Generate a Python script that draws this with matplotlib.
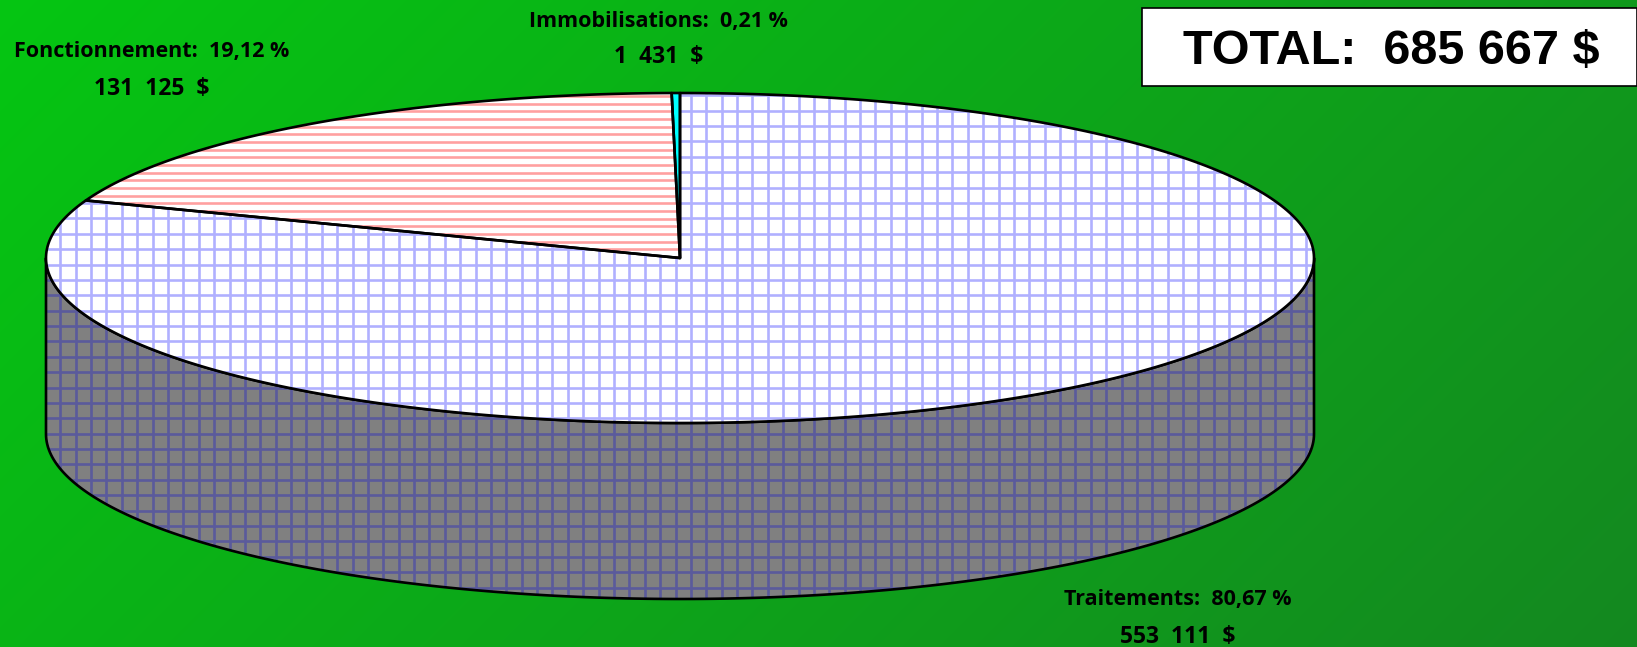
import numpy as np
import matplotlib
matplotlib.use("Agg")
import matplotlib.pyplot as plt
from matplotlib.patches import Polygon, Rectangle

categories = ["Traitements", "Fonctionnement", "Immobilisations"]
percent = [80.67, 19.12, 0.21]
percent_labels = ["80,67 %", "19,12 %", "0,21 %"]
amount_labels = ["553 111 $", "131 125 $", "1 431 $"]
total_label = "TOTAL:  685 667 $"

W, H = 1637, 647
fig = plt.figure(figsize=(W / 100, H / 100), dpi=100)
ax = fig.add_axes([0, 0, 1, 1])
ax.set_xlim(0, W)
ax.set_ylim(H, 0)
ax.axis("off")

# background gradient
yy, xx = np.mgrid[0:H, 0:W]
t = ((xx + yy) / (W + H))[..., None]
c0 = np.array([5, 198, 18]) / 255
c1 = np.array([20, 136, 32]) / 255
ax.imshow(c0 + (c1 - c0) * t, extent=(0, W, H, 0), aspect="auto", zorder=0, interpolation="bilinear")

cx, cy, a, b, depth = 680, 258, 634, 165, 176
edge = dict(edgecolor="black", linewidth=1.9, joinstyle="round")


def pt(theta):
    return cx + a * np.sin(theta), cy - b * np.cos(theta)


def hatch(patch, xs, ys, color, lw):
    for x in xs:
        l, = ax.plot([x, x], [0, H], color=color, lw=lw, zorder=patch.get_zorder(), solid_capstyle="butt")
        l.set_clip_path(patch)
    for y in ys:
        l, = ax.plot([0, W], [y, y], color=color, lw=lw, zorder=patch.get_zorder(), solid_capstyle="butt")
        l.set_clip_path(patch)


grid_x = 614 + 15.38 * np.arange(-40, 50)
grid_y = 203 + 15.38 * np.arange(-13, 30)
red_y = 203.3 + 7.67 * np.arange(-26, 20)

# side wall
th = np.linspace(np.pi / 2, 3 * np.pi / 2, 200)
sx, sy = pt(th)
side_xy = np.r_[np.c_[sx, sy], np.c_[sx[::-1], sy[::-1] + depth]]
side = Polygon(side_xy, closed=True, facecolor="#808080", edgecolor="none", zorder=2)
ax.add_patch(side)
hatch(side, grid_x, grid_y, "#5A5A9C", 1.9)
ax.add_patch(Polygon(side_xy, closed=True, facecolor="none", zorder=3, **edge))

# top slices, clockwise from twelve o'clock
fills = ["white", "white", "#00FFFF"]
cum = np.cumsum([0] + percent) / 100 * 2 * np.pi
for i, name in enumerate(categories):
    th = np.linspace(cum[i], cum[i + 1], max(3, int(400 * percent[i] / 100)))
    ex, ey = pt(th)
    xy = np.r_[[[cx, cy]], np.c_[ex, ey]]
    p = Polygon(xy, closed=True, facecolor=fills[i], edgecolor="none", zorder=4)
    ax.add_patch(p)
    if i == 0:
        hatch(p, grid_x, grid_y, "#B0B0FF", 1.9)
    elif i == 1:
        hatch(p, [], red_y, "#FFA0A0", 1.9)
    ax.add_patch(Polygon(xy, closed=True, facecolor="none", zorder=5, **edge))

# labels
font = dict(family="Open Sans", fontweight="bold", color="black", ha="center", va="center", zorder=6)
pos = {"Traitements": (1177.5, 599, 1178, 637),
       "Fonctionnement": (152, 52, 152, 89),
       "Immobilisations": (658.5, 22, 659, 57)}
for name, pl, am in zip(categories, percent_labels, amount_labels):
    x1, y1, x2, y2 = pos[name]
    ax.text(x1, y1, f"{name}:  {pl}", fontsize=15.5, **font)
    ax.text(x2, y2, am.replace(" ", "  "), fontsize=16.5, **font)

ax.add_patch(Rectangle((1142, 8), W - 1142 - 0.5, 78, facecolor="white", edgecolor="black", linewidth=1.2, zorder=6))
ax.text(1391, 52, total_label, family="Liberation Sans", fontweight="bold", fontsize=35,
        ha="center", va="center", color="black", zorder=7)

fig.savefig("out.png", dpi=100)
